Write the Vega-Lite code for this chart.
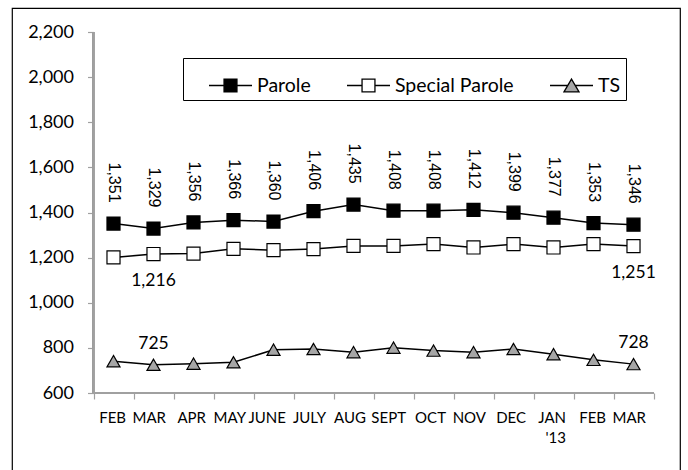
{
  "$schema": "https://vega.github.io/schema/vega-lite/v6.json",
  "width": 668,
  "height": 472,
  "autosize": {"type": "none"},
  "padding": {"left": 12, "top": 8, "right": 8, "bottom": 0},
  "background": "white",
  "title": {"text": "Caseloads, February 2012 through March, 2013", "anchor": "middle", "baseline": "alphabetic", "offset": 6.5, "dx": 10, "font": "Lato", "fontSize": 18, "fontWeight": "normal", "color": "black"},
  "config": {"view": {"stroke": "black", "strokeWidth": 1.2}, "font": "Lato"},
  "data": {"values": [
    {"m": "FEB", "s": "Parole", "v": 1351}, {"m": "MAR", "s": "Parole", "v": 1329}, {"m": "APR", "s": "Parole", "v": 1356}, {"m": "MAY", "s": "Parole", "v": 1366}, {"m": "JUNE", "s": "Parole", "v": 1360}, {"m": "JULY", "s": "Parole", "v": 1406}, {"m": "AUG", "s": "Parole", "v": 1435}, {"m": "SEPT", "s": "Parole", "v": 1408}, {"m": "OCT", "s": "Parole", "v": 1408}, {"m": "NOV", "s": "Parole", "v": 1412}, {"m": "DEC", "s": "Parole", "v": 1399}, {"m": "JAN", "s": "Parole", "v": 1377}, {"m": "FEB2", "s": "Parole", "v": 1353}, {"m": "MAR2", "s": "Parole", "v": 1346},
    {"m": "FEB", "s": "Special Parole", "v": 1201}, {"m": "MAR", "s": "Special Parole", "v": 1216}, {"m": "APR", "s": "Special Parole", "v": 1218}, {"m": "MAY", "s": "Special Parole", "v": 1239}, {"m": "JUNE", "s": "Special Parole", "v": 1233}, {"m": "JULY", "s": "Special Parole", "v": 1238}, {"m": "AUG", "s": "Special Parole", "v": 1252}, {"m": "SEPT", "s": "Special Parole", "v": 1252}, {"m": "OCT", "s": "Special Parole", "v": 1260}, {"m": "NOV", "s": "Special Parole", "v": 1245}, {"m": "DEC", "s": "Special Parole", "v": 1260}, {"m": "JAN", "s": "Special Parole", "v": 1245}, {"m": "FEB2", "s": "Special Parole", "v": 1260}, {"m": "MAR2", "s": "Special Parole", "v": 1251},
    {"m": "FEB", "s": "TS", "v": 741}, {"m": "MAR", "s": "TS", "v": 725}, {"m": "APR", "s": "TS", "v": 730}, {"m": "MAY", "s": "TS", "v": 736}, {"m": "JUNE", "s": "TS", "v": 792}, {"m": "JULY", "s": "TS", "v": 795}, {"m": "AUG", "s": "TS", "v": 781}, {"m": "SEPT", "s": "TS", "v": 801}, {"m": "OCT", "s": "TS", "v": 788}, {"m": "NOV", "s": "TS", "v": 781}, {"m": "DEC", "s": "TS", "v": 795}, {"m": "JAN", "s": "TS", "v": 772}, {"m": "FEB2", "s": "TS", "v": 747}, {"m": "MAR2", "s": "TS", "v": 728}
  ]},
  "resolve": {"scale": {"shape": "independent", "fill": "independent", "size": "independent"}, "legend": {"shape": "independent", "fill": "independent", "size": "independent"}},
  "layer": [
    {
      "mark": {"type": "rule", "color": "#a0a0a0", "strokeWidth": 1.2},
      "encoding": {
        "x": {"datum": "FEB", "type": "nominal", "bandPosition": 0},
        "y": {"datum": 600, "type": "quantitative"},
        "y2": {"datum": 2200}
      }
    },
    {
      "mark": {"type": "rule", "color": "#a0a0a0", "strokeWidth": 1.2},
      "encoding": {
        "x": {"datum": "FEB", "type": "nominal", "bandPosition": 0},
        "x2": {"datum": "MAR2", "bandPosition": 1},
        "y": {"datum": 600, "type": "quantitative"}
      }
    },
    {
      "mark": {"type": "line", "color": "black", "strokeWidth": 1.5},
      "encoding": {
        "x": {
          "field": "m", "type": "nominal",
          "scale": {"domain": ["FEB", "MAR", "APR", "MAY", "JUNE", "JULY", "AUG", "SEPT", "OCT", "NOV", "DEC", "JAN", "FEB2", "MAR2"], "paddingInner": 0, "paddingOuter": 0, "range": [81.5, 641.5]},
          "axis": {
            "title": null, "orient": "bottom", "offset": -87, "domain": false, "grid": false,
            "tickBand": "extent", "tickColor": "#a0a0a0", "tickSize": 6, "tickWidth": 1.2,
            "labelAngle": 0, "labelPadding": 18, "labelFont": "Lato", "labelFontSize": 15, "labelColor": "black",
            "labelOverlap": false, "labelBound": false, "labelLineHeight": 20, "labelOffset": 12,
            "labelExpr": "datum.value == 'JAN' ? ['JAN', \"'13\"] : datum.value == 'FEB2' ? 'FEB' : datum.value == 'MAR2' ? 'MAR' : datum.value"
          }
        },
        "y": {
          "field": "v", "type": "quantitative",
          "scale": {"domain": [214.4, 2306.4], "nice": false, "zero": false},
          "axis": {
            "title": null, "offset": -81.5, "domain": false, "grid": false,
            "values": [600, 800, 1000, 1200, 1400, 1600, 1800, 2000, 2200], "format": ",.0f",
            "tickColor": "#a0a0a0", "tickSize": 6, "tickWidth": 1.2,
            "labelPadding": 14, "labelFont": "Lato", "labelFontSize": 18, "labelColor": "black"
          }
        },
        "detail": {"field": "s"}
      }
    },
    {
      "mark": {"type": "point", "filled": true, "stroke": "black", "strokeWidth": 1.2, "opacity": 1},
      "encoding": {
        "x": {"field": "m", "type": "nominal"},
        "y": {"field": "v", "type": "quantitative"},
        "shape": {"field": "s", "type": "nominal", "scale": {"domain": ["Parole", "Special Parole", "TS"], "range": ["square", "square", "triangle-up"]}, "legend": null},
        "size": {"field": "s", "type": "nominal", "scale": {"domain": ["Parole", "Special Parole", "TS"], "range": [170, 170, 225]}, "legend": null},
        "fill": {"field": "s", "type": "nominal", "scale": {"domain": ["Parole", "Special Parole", "TS"], "range": ["black", "white", "#a6a6a6"]}, "legend": null}
      }
    },
    {
      "transform": [{"filter": "false"}],
      "mark": {"type": "point", "filled": true, "stroke": "black", "strokeWidth": 1.3, "opacity": 1},
      "encoding": {
        "x": {"field": "m", "type": "nominal"},
        "y": {"field": "v", "type": "quantitative"},
        "shape": {
          "field": "s", "type": "nominal",
          "scale": {"domain": ["Parole", "Special Parole", "TS"], "range": ["M-1,0H-0.3M0.3,0H1M-0.3,-0.3H0.3V0.3H-0.3Z", "M-1,0H-0.3M0.3,0H1M-0.3,-0.3H0.3V0.3H-0.3Z", "M-1,0H-0.18M0.18,0H1M0,-0.3L0.35,0.3H-0.35Z"]}
        },
        "fill": {
          "field": "s", "type": "nominal",
          "scale": {"domain": ["Parole", "Special Parole", "TS"], "range": ["black", "white", "#a6a6a6"]},
          "legend": {
            "orient": "none", "legendX": 171, "legendY": 50, "direction": "horizontal",
            "title": " ", "titleOrient": "left", "titlePadding": 20, "titleFontSize": 18,
            "strokeColor": "black", "fillColor": "white", "padding": 5,
            "labelFont": "Lato", "labelFontSize": 19.5, "labelColor": "black", "labelOffset": 4,
            "columnPadding": 33, "symbolSize": 1849, "symbolOpacity": 1, "symbolStrokeColor": "black", "symbolStrokeWidth": 1.3
          }
        }
      }
    },
    {
      "transform": [{"filter": "datum.s == 'Parole'"}],
      "mark": {"type": "text", "angle": 90, "align": "right", "baseline": "middle", "dx": -21, "font": "Liberation Sans", "fontSize": 16, "color": "black"},
      "encoding": {
        "x": {"field": "m", "type": "nominal"},
        "y": {"field": "v", "type": "quantitative"},
        "text": {"field": "v", "type": "quantitative", "format": ","}
      }
    },
    {
      "transform": [{"filter": "datum.s == 'Special Parole' && (datum.m == 'MAR' || datum.m == 'MAR2')"}],
      "mark": {"type": "text", "align": "center", "baseline": "middle", "dy": 27, "font": "Lato", "fontSize": 17.5, "color": "black"},
      "encoding": {
        "x": {"field": "m", "type": "nominal"},
        "y": {"field": "v", "type": "quantitative"},
        "text": {"field": "v", "type": "quantitative", "format": ","}
      }
    },
    {
      "transform": [{"filter": "datum.s == 'TS' && (datum.m == 'MAR' || datum.m == 'MAR2')"}],
      "mark": {"type": "text", "align": "center", "baseline": "middle", "dy": -21, "font": "Lato", "fontSize": 17.5, "color": "black"},
      "encoding": {
        "x": {"field": "m", "type": "nominal"},
        "y": {"field": "v", "type": "quantitative"},
        "text": {"field": "v", "type": "quantitative", "format": ","}
      }
    }
  ]
}
